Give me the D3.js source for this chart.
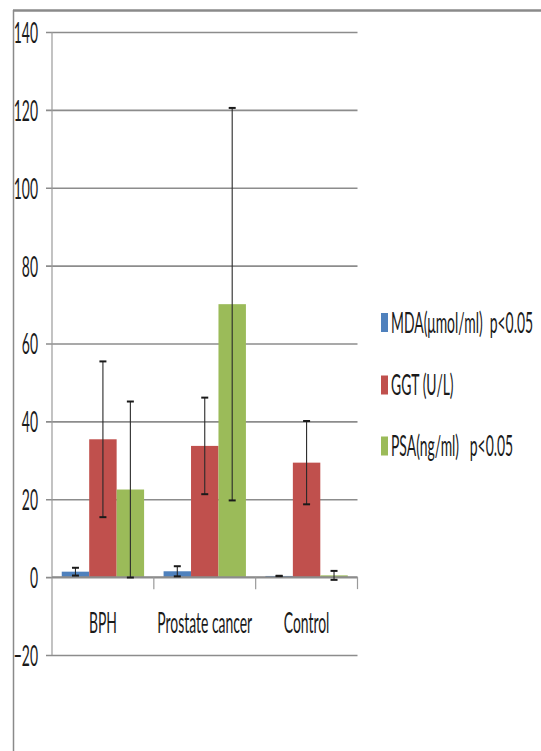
<!DOCTYPE html>
<html>
<head>
<meta charset="utf-8">
<script src="https://cdn.jsdelivr.net/npm/d3@7"></script>
<style>
  body { margin: 0; background: #fff; }
  text { font-family: Lato, "Liberation Sans", sans-serif; fill: #1a1a1a; white-space: pre; }
</style>
</head>
<body>
<script>
const categories = ["BPH", "Prostate cancer", "Control"];
const seriesNames = ["MDA(μmol/ml)  p<0.05", "GGT (U/L)", "PSA(ng/ml)   p<0.05"];
const seriesColors = ["#4f81bd", "#c0504d", "#9bbb59"];

const mdaMean = [1.4, 1.5, 0.3];
const mdaErr = [1.0, 1.3, 0.05];
const ggtMean = [35.4, 33.7, 29.4];
const ggtErr = [20, 12.4, 10.7];
const psaMean = [22.5, 70.1, 0.45];
const psaErr = [22.6, 50.4, 1.15];

const yTicks = [-20, 0, 20, 40, 60, 80, 100, 120, 140];

const means = [mdaMean, ggtMean, psaMean];
const errs = [mdaErr, ggtErr, psaErr];

const W = 541;
const H = 751;
const sx = 0.48; // text is squashed horizontally like the source image
const fontSize = 29;

const svg = d3
  .select("body")
  .append("svg")
  .attr("width", W)
  .attr("height", H);

// outer frame
svg.append("line")
  .attr("x1", 13).attr("x2", W).attr("y1", 10.5).attr("y2", 10.5)
  .attr("stroke", "#8a8a8a").attr("stroke-width", 2.5);
svg.append("line")
  .attr("x1", 13.5).attr("x2", 13.5).attr("y1", 10).attr("y2", H)
  .attr("stroke", "#8a8a8a").attr("stroke-width", 1.5);

const left = 52;
const right = 357.5;
const yScale = d3.scaleLinear().domain([-20, 140]).range([655, 32]);

const xScale = d3
  .scaleBand()
  .domain(categories)
  .range([left, right])
  .padding(0);

const inner = d3
  .scaleBand()
  .domain(d3.range(seriesNames.length))
  .range([0, xScale.bandwidth()])
  .paddingInner(0)
  .paddingOuter(0.355);

// gridlines + y labels
const yAxis = d3
  .axisLeft(yScale)
  .tickValues(yTicks)
  .tickSize(-(right - left + 6))
  .tickFormat(d3.format("d"));

const yg = svg.append("g")
  .attr("transform", `translate(${left - 6},0)`)
  .call(yAxis);
yg.select(".domain").remove();
yg.selectAll(".tick line")
  .attr("stroke", "#8c8c8c")
  .attr("stroke-width", 1.6);
yg.selectAll(".tick text")
  .attr("x", null)
  .attr("dy", "0.36em")
  .attr("font-size", fontSize)
  .attr("fill", "#1a1a1a")
  .attr("transform", `translate(-8,0) scale(${sx},1)`);

// vertical axis line
svg.append("line")
  .attr("x1", left).attr("x2", left)
  .attr("y1", yScale(140)).attr("y2", yScale(-20))
  .attr("stroke", "#9a9a9a").attr("stroke-width", 1.2);

// bars
const barData = [];
categories.forEach((c, ci) => {
  seriesNames.forEach((s, si) => {
    barData.push({ c, si, v: means[si][ci], e: errs[si][ci] });
  });
});

const groups = svg.append("g");
groups
  .selectAll("rect")
  .data(barData)
  .enter()
  .append("rect")
  .attr("x", (d) => xScale(d.c) + inner(d.si))
  .attr("width", inner.bandwidth())
  .attr("y", (d) => yScale(Math.max(0, d.v)))
  .attr("height", (d) => Math.abs(yScale(d.v) - yScale(0)))
  .attr("fill", (d) => seriesColors[d.si]);

// x axis at zero
svg.append("line")
  .attr("x1", left).attr("x2", right)
  .attr("y1", yScale(0)).attr("y2", yScale(0))
  .attr("stroke", "#8c8c8c").attr("stroke-width", 1.6);
svg.append("g")
  .selectAll("line")
  .data(categories)
  .enter()
  .append("line")
  .attr("x1", (d) => xScale(d) + xScale.bandwidth())
  .attr("x2", (d) => xScale(d) + xScale.bandwidth())
  .attr("y1", yScale(0))
  .attr("y2", yScale(0) + 12)
  .attr("stroke", "#9a9a9a")
  .attr("stroke-width", 1.2);

svg.append("g")
  .selectAll("text")
  .data(categories)
  .enter()
  .append("text")
  .attr("text-anchor", "middle")
  .attr("font-size", fontSize)
  .attr("transform", (d) => `translate(${xScale(d) + xScale.bandwidth() / 2},633) scale(${sx},1)`)
  .text((d) => d);

// error bars
const capW = 7;
const eg = svg.append("g");
barData.forEach((d) => {
  const cx = xScale(d.c) + inner(d.si) + inner.bandwidth() / 2;
  const yTop = yScale(d.v + d.e);
  const yBot = yScale(d.v - d.e);
  eg.append("line")
    .attr("x1", cx).attr("x2", cx).attr("y1", yTop).attr("y2", yBot)
    .attr("stroke", "#2a2a2a").attr("stroke-width", 1.1);
  [yTop, yBot].forEach((yy) => {
    eg.append("line")
      .attr("x1", cx - capW / 2).attr("x2", cx + capW / 2)
      .attr("y1", yy).attr("y2", yy)
      .attr("stroke", "#1a1a1a").attr("stroke-width", 2);
  });
});

// legend
const legend = svg.append("g");
const legendY = [322.5, 385, 446];
seriesNames.forEach((s, i) => {
  legend.append("rect")
    .attr("x", 381).attr("y", legendY[i] - 9.5)
    .attr("width", 7).attr("height", 19)
    .attr("fill", seriesColors[i]);
  legend.append("text")
    .attr("font-size", fontSize)
    .attr("transform", `translate(391,${legendY[i] + 10}) scale(${sx},1)`)
    .text(s);
});
</script>
</body>
</html>
